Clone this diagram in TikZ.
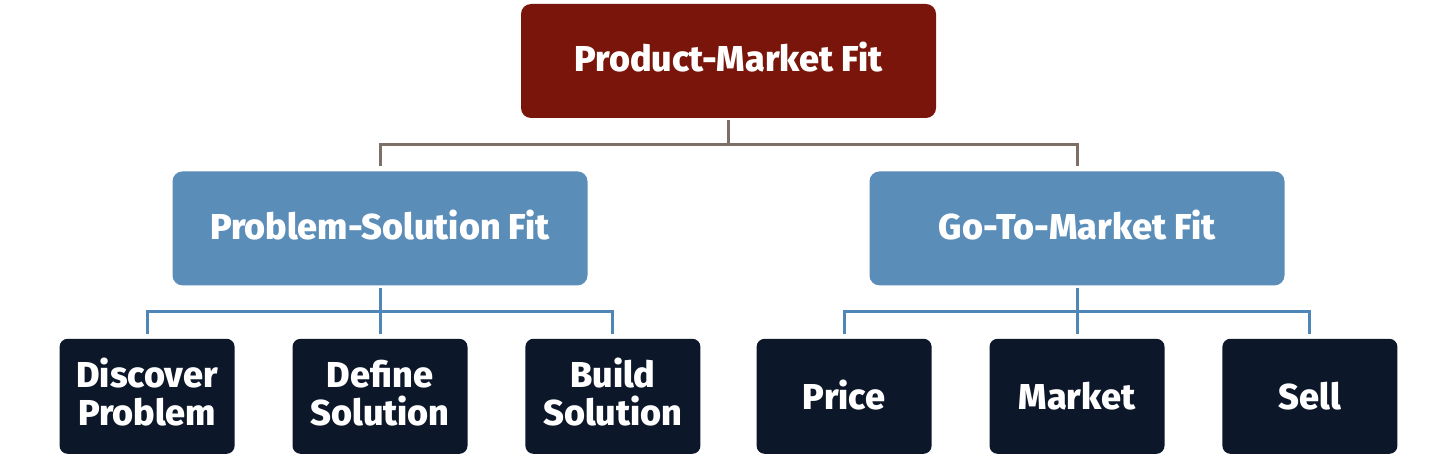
\documentclass[tikz,border=0pt]{standalone}
\usepackage{fontspec}
\setmainfont{Fira Sans}[BoldFont={Fira Sans ExtraBold}]
\usetikzlibrary{positioning}
\definecolor{pmfred}{HTML}{7A150B}
\definecolor{phaseblue}{HTML}{5B8DB9}
\definecolor{tasknavy}{HTML}{0D172A}
\definecolor{linkbrown}{HTML}{7D6F66}
\definecolor{linkblue}{HTML}{4F86B8}
\begin{document}
\begin{tikzpicture}[
  x=1pt, y=-1pt,
  every node/.style={rounded corners=10pt, text=white, align=center, inner sep=0pt,
    text height=27pt, text depth=0pt, font=\fontsize{36}{38}\selectfont\bfseries},
  goal/.style={fill=pmfred, minimum width=415pt, minimum height=114pt, text depth=5pt},
  phase/.style={fill=phaseblue, minimum width=415pt, minimum height=114pt, text depth=5pt},
  task/.style={fill=tasknavy, minimum width=175pt, minimum height=115pt, rounded corners=8pt},
  twoline/.style={text height=65pt, text depth=6pt},
  link/.style={line width=3pt, shorten <=2pt, shorten >=5pt}
]
  \useasboundingbox (0,0) rectangle (1456,457);

  \node[goal] (pmf) at (728.5,61) {Product-Market Fit};

  \node[phase, below=53pt of pmf, xshift=-348.5pt] (psf) {Problem-Solution Fit};
  \node[phase, below=53pt of pmf, xshift=348.5pt] (gtm) {Go-To-Market Fit};

  \node[task, twoline, below=53pt of psf] (define) {Define\\Solution};
  \node[task, twoline, left=57.5pt of define] (discover) {Discover\\Problem};
  \node[task, twoline, right=57.5pt of define] (build) {Build\\Solution};

  \node[task, below=53pt of gtm] (market) {Market};
  \node[task, left=57.5pt of market] (price) {Price};
  \node[task, right=57.5pt of market] (sell) {Sell};

  \draw[link, linkbrown] (pmf.south) -- ++(0,26) -| (psf.north);
  \draw[link, linkbrown] (pmf.south) -- ++(0,26) -| (gtm.north);

  \foreach \c in {discover,define,build}
    \draw[link, linkblue] (psf.south) -- ++(0,26) -| (\c.north);
  \foreach \c in {price,market,sell}
    \draw[link, linkblue] (gtm.south) -- ++(0,26) -| (\c.north);
\end{tikzpicture}
\end{document}
